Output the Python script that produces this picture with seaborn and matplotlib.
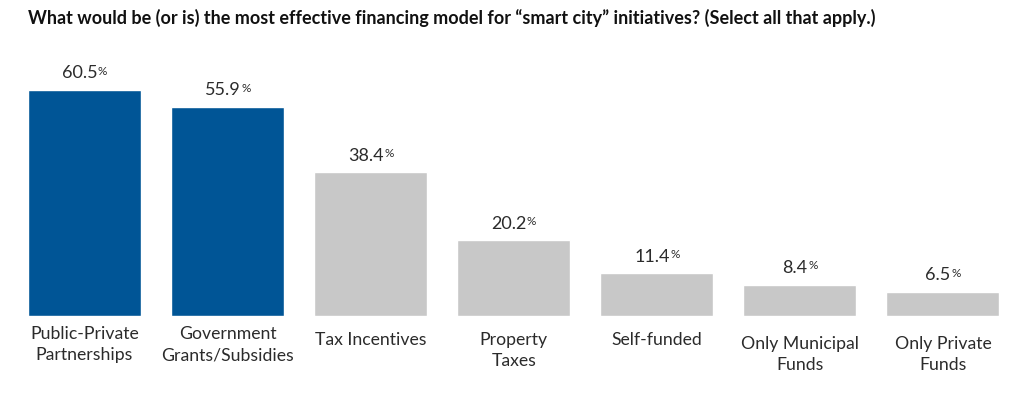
import matplotlib
matplotlib.use("Agg")
import matplotlib.pyplot as plt
import seaborn as sns
import pandas as pd

categories = ["Public-Private\nPartnerships", "Government\nGrants/Subsidies", "Tax Incentives",
              "Property\nTaxes", "Self-funded", "Only Municipal\nFunds", "Only Private\nFunds"]
values = [60.5, 55.9, 38.4, 20.2, 11.4, 8.4, 6.5]
highlight = [True, True, False, False, False, False, False]

title = "What would be (or is) the most effective financing model for \u201csmart city\u201d initiatives? (Select all that apply.)"

BLUE = "#005596"
GREY = "#c8c8c8"
TEXT = "#2b2b2b"

# small extra drop (in points) for each tick label, the source staggers them a bit
label_drop = [0, 0, 4, 4, 4, 7, 7]

sns.set_theme(style="white")
plt.rcParams["font.family"] = ["Lato", "DejaVu Sans"]

df = pd.DataFrame({"category": categories, "value": values,
                   "group": ["hi" if h else "lo" for h in highlight]})

fig = plt.figure(figsize=(10.26, 3.93), dpi=100)
ax = fig.add_axes([13 / 1026, 77 / 393, (1014.5 - 13) / 1026, 243 / 393])

sns.barplot(data=df, x="category", y="value", hue="group", dodge=False,
            palette={"hi": BLUE, "lo": GREY}, width=0.79, legend=False, ax=ax,
            saturation=1)

ax.set_ylim(0, 65)
ax.set_xlim(-0.5, len(values) - 0.5)
ax.set_xlabel("")
ax.set_ylabel("")
ax.set_yticks([])
for s in ax.spines.values():
    s.set_visible(False)

ax.set_xticks(range(len(categories)))
ax.set_xticklabels([])
for i, (cat, drop) in enumerate(zip(categories, label_drop)):
    ax.annotate(cat, xy=(i, 0), xytext=(0, -7.5 - drop), textcoords="offset points",
                ha="center", va="top", fontsize=12.7, color=TEXT, linespacing=1.38)

for i, v in enumerate(values):
    t = ax.annotate(f"{v:.1f}", xy=(i, v), xytext=(-3.5, 8.5), textcoords="offset points",
                    ha="center", va="baseline", fontsize=13, color=TEXT)
    ax.annotate("%", xy=(1, 1), xycoords=t, xytext=(0.3, -0.5), textcoords="offset points",
                ha="left", va="top", fontsize=8.5, color=TEXT)

fig.text(28 / 1026, 1 - 18 / 393, title, ha="left", va="center",
         fontsize=13, fontweight="bold", color="#111111")

fig.savefig("out.png", dpi=100)
